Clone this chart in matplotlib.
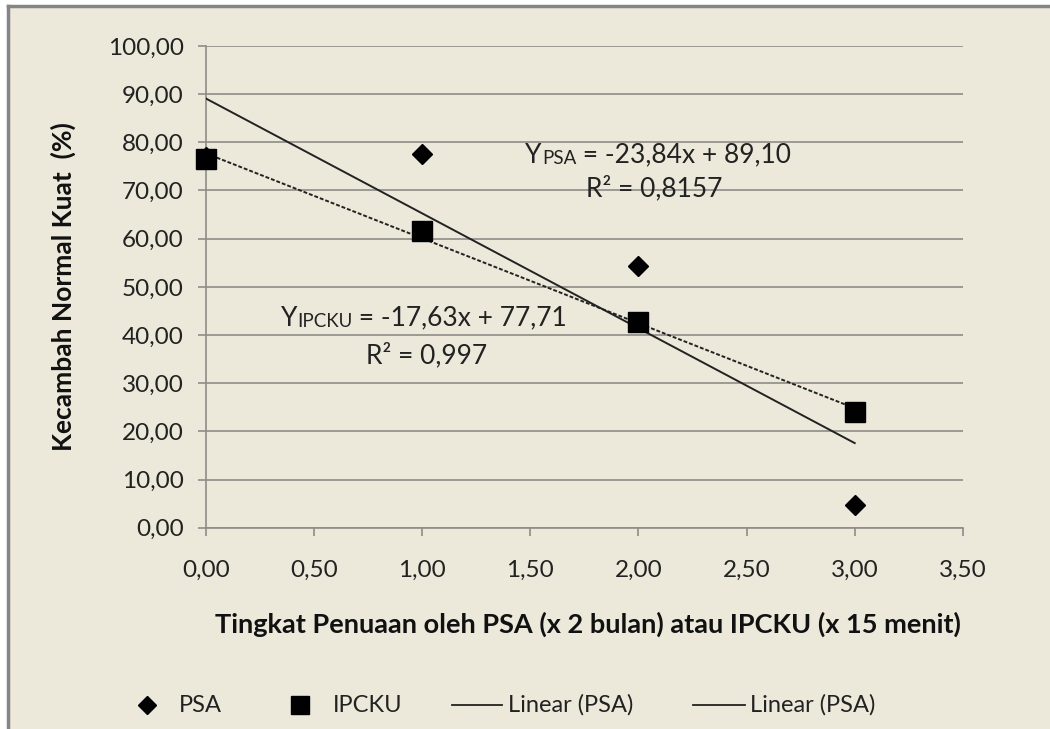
import numpy as np
import matplotlib
matplotlib.use("Agg")
from matplotlib import pyplot as plt
from matplotlib.lines import Line2D

plt.rcParams['font.family'] = ['Lato', 'DejaVu Sans']

# data
x_vals = [0, 1, 2, 3]
psa = [76.9, 77.5, 54.3, 4.7]
ipcku = [76.5, 61.5, 42.8, 24.0]
psa_fit = (-23.84, 89.10)
ipcku_fit = (-17.63, 77.71)
x_ticks = [0, 0.5, 1, 1.5, 2, 2.5, 3, 3.5]
y_ticks = [0, 10, 20, 30, 40, 50, 60, 70, 80, 90, 100]

bg = '#ECE9DA'
grid_c = '#8E8C86'
txt_c = '#222222'

fig = plt.figure(figsize=(10.5, 7.29), dpi=100, facecolor=bg)
ax = fig.add_axes([0.196, 0.276, 0.721, 0.661])
ax.set_facecolor(bg)

# outer frame (left / top grey border)
fig.add_artist(Line2D([0.0075, 0.0075], [0, 0.992], color='#858585', lw=2.5))
fig.add_artist(Line2D([0.0075, 1], [0.992, 0.992], color='#858585', lw=2.5))
fig.patches.append(plt.Rectangle((0, 0), 0.006, 1, transform=fig.transFigure,
                                 color='white', zorder=-1))
fig.patches.append(plt.Rectangle((0, 0.993), 1, 0.007, transform=fig.transFigure,
                                 color='white', zorder=-1))

ax.set_xlim(0, 3.5)
ax.set_ylim(0, 100)
ax.set_xticks(x_ticks)
ax.set_yticks(y_ticks)
ax.set_xticklabels([f"{v:.2f}".replace('.', ',') for v in x_ticks], fontsize=17.5, color=txt_c)
ax.set_yticklabels([f"{v:.2f}".replace('.', ',') for v in y_ticks], fontsize=17.5, color=txt_c)
ax.tick_params(axis='x', direction='out', length=6, width=1.2, color=grid_c, pad=17)
ax.tick_params(axis='y', direction='out', length=6, width=1.2, color=grid_c, pad=10)
ax.grid(axis='y', color=grid_c, lw=1.2)
ax.set_axisbelow(True)
for s in ['top', 'right']:
    ax.spines[s].set_visible(False)
for s in ['left', 'bottom']:
    ax.spines[s].set_color(grid_c)
    ax.spines[s].set_linewidth(1.2)

# trend lines
xl = np.array([x_vals[0], x_vals[-1]])
ax.plot(xl, psa_fit[0] * xl + psa_fit[1], color=txt_c, lw=1.4, zorder=3)
ax.plot(xl, ipcku_fit[0] * xl + ipcku_fit[1], color=txt_c, lw=1.4,
        ls=(0, (2, 1)), zorder=3)

# points
ax.plot(x_vals, psa, ls='none', marker='D', ms=10.5, color='black', zorder=4,
        clip_on=False)
ax.plot(x_vals, ipcku, ls='none', marker='s', ms=15, color='black', zorder=5,
        clip_on=False)

ax.set_xlabel('Tingkat Penuaan oleh PSA (x 2 bulan) atau IPCKU (x 15 menit)',
              fontsize=19.5, fontweight='bold', color='#111111')
ax.xaxis.set_label_coords(0.505, -0.175)
ax.set_ylabel('Kecambah Normal Kuat  (%)', fontsize=19, fontweight='bold',
              color='#111111')
ax.yaxis.set_label_coords(-0.1715, 0.5)


def equation(x, y, sub, rest):
    t1 = ax.text(x, y, 'Y', fontsize=19, color=txt_c, va='bottom')
    t2 = ax.annotate(sub, xy=(1, 0.04), xycoords=t1, fontsize=13.5,
                     color=txt_c, va='bottom')
    ax.annotate(rest, xy=(1, -0.04), xycoords=t2, fontsize=19,
                color=txt_c, va='bottom')


equation(1.477, 74.7, 'PSA', ' = -23,84x + 89,10')
ax.text(1.76, 67.8, 'R² = 0,8157', fontsize=19, color=txt_c, va='bottom')
equation(0.346, 40.9, 'IPCKU', ' = -17,63x + 77,71')
ax.text(0.74, 33.2, 'R² = 0,997', fontsize=19, color=txt_c, va='bottom')

# legend, laid out by hand along the bottom of the figure
ly = 1 - 705 / 729
fig.add_artist(Line2D([147 / 1050], [ly], ls='none', marker='D', ms=9, color='black'))
fig.text(179 / 1050, ly, 'PSA', fontsize=17, color=txt_c, va='center')
fig.add_artist(Line2D([300 / 1050], [ly], ls='none', marker='s', ms=12.5, color='black'))
fig.text(333 / 1050, ly, 'IPCKU', fontsize=17, color=txt_c, va='center')
fig.add_artist(Line2D([452 / 1050, 502 / 1050], [ly, ly], color=txt_c, lw=1.3))
fig.text(508 / 1050, ly, 'Linear (PSA)', fontsize=17, color=txt_c, va='center')
fig.add_artist(Line2D([693 / 1050, 745 / 1050], [ly, ly], color=txt_c, lw=1.3))
fig.text(750 / 1050, ly, 'Linear (PSA)', fontsize=17, color=txt_c, va='center')

fig.savefig('out.png', dpi=100, facecolor=bg)
